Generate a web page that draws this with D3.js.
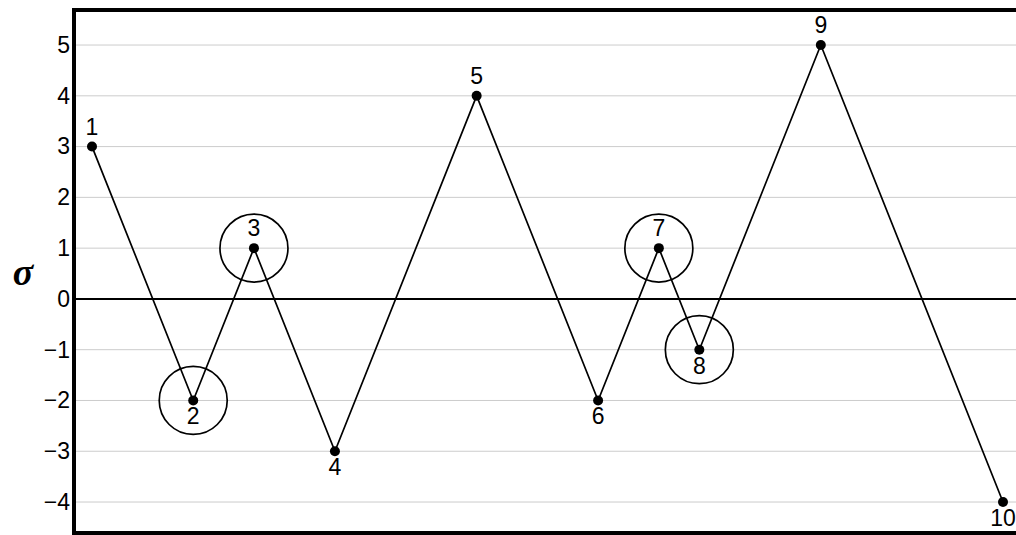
<!DOCTYPE html>
<html>
<head>
<meta charset="utf-8">
<script src="https://cdn.jsdelivr.net/npm/d3@7"></script>
<style>
  html, body { margin: 0; padding: 0; background: #fff; overflow: hidden; }
  svg { display: block; }
</style>
</head>
<body>
<svg id="chart" width="1016" height="535"></svg>
<script>
// Stress reversal sequence
const pointLabels = ["1", "2", "3", "4", "5", "6", "7", "8", "9", "10"];
const sigmaValues = [3, -2, 1, -3, 4, -2, 1, -1, 5, -4];
const circledPoints = ["2", "3", "7", "8"];
const yTicks = [-4, -3, -2, -1, 0, 1, 2, 3, 4, 5];
const yTickLabels = ["−4", "−3", "−2", "−1", "0", "1", "2", "3", "4", "5"];

// Horizontal position follows the accumulated stress path length
const pathLength = [0].concat(Array.from(d3.cumsum(
  sigmaValues.slice(1).map((v, i) => Math.abs(v - sigmaValues[i]))
)));

const points = pointLabels.map((lab, i) => ({
  label: lab, sigma: sigmaValues[i], s: pathLength[i],
  peak: i === 0 ? sigmaValues[i] > sigmaValues[i + 1] : sigmaValues[i] > sigmaValues[i - 1]
}));

const svg = d3.select("#chart");
const plotLeft = 74, plotTop = 10, plotBottom = 533, plotRight = 1030;

const x = d3.scaleLinear().domain([0, 45]).range([92, 1003]);
const y = d3.scaleLinear().domain([-4.61, 5.69]).range([plotBottom, plotTop]);

// grid lines
svg.append("g").selectAll("line").data(yTicks.filter(d => d !== 0)).join("line")
  .attr("x1", plotLeft).attr("x2", plotRight)
  .attr("y1", d => y(d)).attr("y2", d => y(d))
  .attr("stroke", "#cccccc").attr("stroke-width", 1);

// zero line
svg.append("line")
  .attr("x1", plotLeft).attr("x2", plotRight)
  .attr("y1", y(0)).attr("y2", y(0))
  .attr("stroke", "#000").attr("stroke-width", 2);

// y axis tick labels
const yAxis = d3.axisLeft(y).tickValues(yTicks)
  .tickFormat((d, i) => yTickLabels[i]).tickSize(0).tickPadding(4);
const gAxis = svg.append("g").attr("transform", `translate(${plotLeft},0)`).call(yAxis);
gAxis.select(".domain").remove();
gAxis.selectAll("text")
  .attr("font-family", "Liberation Sans, Arial, sans-serif")
  .attr("font-size", 23).attr("fill", "#000");

// axis title
svg.append("text")
  .attr("x", 23).attr("y", 285)
  .attr("text-anchor", "middle")
  .attr("font-family", "Liberation Serif, Times New Roman, serif")
  .attr("font-style", "italic").attr("font-weight", "bold")
  .attr("font-size", 38).attr("fill", "#000")
  .text("σ");

// stress path
const line = d3.line().x(d => x(d.s)).y(d => y(d.sigma));
svg.append("path").datum(points)
  .attr("d", line).attr("fill", "none")
  .attr("stroke", "#000").attr("stroke-width", 1.7);

// highlighted reversals
svg.append("g").selectAll("circle")
  .data(points.filter(p => circledPoints.includes(p.label))).join("circle")
  .attr("cx", d => x(d.s)).attr("cy", d => y(d.sigma)).attr("r", 34)
  .attr("fill", "none").attr("stroke", "#000").attr("stroke-width", 1.7);

// points
svg.append("g").selectAll("circle.pt").data(points).join("circle")
  .attr("class", "pt")
  .attr("cx", d => x(d.s)).attr("cy", d => y(d.sigma)).attr("r", 5)
  .attr("fill", "#000");

// point labels
svg.append("g").selectAll("text").data(points).join("text")
  .attr("x", d => x(d.s))
  .attr("y", d => y(d.sigma) + (d.peak ? -12 : 24))
  .attr("text-anchor", "middle")
  .attr("font-family", "Liberation Sans, Arial, sans-serif")
  .attr("font-size", 23).attr("fill", "#000")
  .text(d => d.label);

// frame
svg.append("rect")
  .attr("x", plotLeft).attr("y", plotTop)
  .attr("width", plotRight - plotLeft).attr("height", plotBottom - plotTop)
  .attr("fill", "none").attr("stroke", "#000").attr("stroke-width", 4);
</script>
</body>
</html>
